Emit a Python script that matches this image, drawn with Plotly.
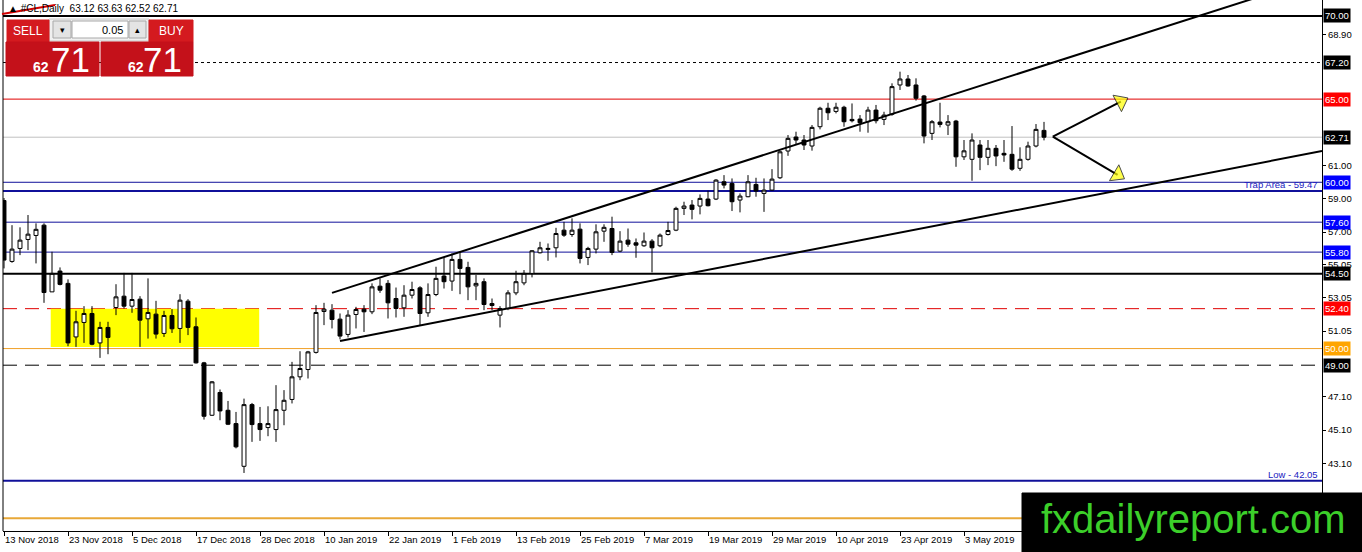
import plotly.graph_objects as go
import pandas as pd

# ---- datos (CL diario, 13 Nov 2018 - 17 May 2019) ----
festivos = ["2018-12-25", "2019-01-01", "2019-04-19"]
fechas = pd.bdate_range("2018-11-13", periods=131, freq="C", holidays=festivos)

apertura = [58.90, 55.24, 56.02, 56.56, 56.80, 57.42, 53.41, 54.66, 53.92, 50.70,
            51.57, 52.11, 50.34, 51.27, 52.47, 53.15, 52.55, 52.97, 51.79, 52.07,
            50.91, 51.99, 51.21, 52.85, 51.31, 49.14, 45.99, 47.36, 46.29, 45.49,
            42.92, 46.63, 45.49, 45.25, 45.13, 46.29, 46.94, 48.30, 48.74, 49.77,
            52.23, 52.31, 51.77, 50.85, 52.05, 52.37, 52.21, 53.75, 53.92, 53.01,
            52.45, 53.21, 53.65, 52.15, 53.25, 54.36, 54.06, 55.36, 54.88, 53.77,
            54.02, 52.59, 52.01, 52.41, 53.35, 53.95, 54.52, 55.76, 55.96, 56.06,
            57.12, 56.86, 57.18, 55.48, 55.98, 57.06, 57.22, 55.86, 56.52, 56.36,
            56.18, 56.46, 56.18, 56.86, 57.12, 58.43, 58.63, 58.57, 58.99, 58.99,
            60.03, 59.93, 58.93, 59.13, 59.87, 59.33, 59.53, 60.27, 61.88, 62.72,
            62.54, 62.18, 63.34, 64.45, 64.26, 64.51, 63.78, 63.80, 63.64, 64.34,
            63.78, 64.09, 65.85, 66.21, 65.85, 65.19, 62.94, 63.62, 63.44, 63.68,
            61.53, 61.38, 62.24, 61.50, 62.04, 61.74, 61.68, 60.84, 61.38, 62.18,
            63.12]
maximo = [59.05, 57.42, 57.29, 58.03, 57.53, 57.53, 55.82, 54.88, 54.16, 52.27,
          52.55, 52.55, 51.61, 51.61, 53.87, 54.55, 54.55, 53.15, 54.22, 52.87,
          52.27, 52.37, 53.27, 52.97, 51.87, 49.20, 48.05, 47.54, 46.85, 46.19,
          46.99, 46.73, 46.49, 46.53, 47.80, 47.50, 49.20, 49.84, 49.86, 52.61,
          52.75, 52.67, 52.11, 52.31, 52.51, 52.61, 53.92, 54.22, 54.12, 53.67,
          53.81, 54.02, 53.75, 53.92, 54.92, 55.48, 55.72, 55.82, 55.22, 54.42,
          54.22, 53.01, 52.55, 53.51, 54.68, 54.72, 55.92, 56.42, 56.32, 57.26,
          57.62, 57.83, 57.53, 56.12, 57.47, 57.47, 57.93, 57.06, 57.22, 56.62,
          56.98, 56.58, 56.92, 57.62, 58.53, 58.83, 58.93, 59.27, 59.49, 60.19,
          60.43, 60.23, 59.33, 60.43, 60.27, 60.23, 60.79, 61.90, 62.84, 63.04,
          62.84, 63.44, 64.54, 64.78, 64.78, 64.60, 64.74, 64.04, 64.54, 64.65,
          64.24, 65.95, 66.65, 66.45, 66.25, 65.25, 63.74, 64.78, 64.04, 63.75,
          62.54, 62.94, 62.54, 62.54, 62.24, 62.54, 63.38, 62.10, 62.44, 63.50,
          63.63]
minimo = [54.82, 55.16, 55.62, 55.92, 55.12, 52.75, 53.41, 53.80, 50.14, 50.10,
          50.34, 50.20, 49.44, 49.66, 52.01, 52.41, 52.15, 50.10, 50.60, 50.60,
          50.70, 50.94, 50.34, 50.81, 49.10, 45.73, 45.95, 45.69, 45.40, 44.00,
          42.52, 44.39, 44.45, 44.73, 44.39, 45.39, 46.70, 48.10, 48.20, 49.70,
          51.41, 51.21, 50.55, 50.67, 51.21, 51.00, 52.07, 53.35, 51.81, 51.87,
          51.91, 53.01, 51.41, 51.91, 53.15, 53.61, 53.47, 53.27, 52.91, 52.91,
          52.31, 52.31, 51.27, 52.31, 53.21, 53.81, 54.28, 55.72, 55.28, 55.48,
          56.72, 56.72, 55.12, 55.02, 55.72, 56.42, 55.62, 55.80, 56.12, 55.46,
          56.12, 54.58, 56.10, 56.80, 57.06, 58.03, 57.77, 58.07, 58.55, 58.93,
          59.63, 58.27, 58.19, 59.10, 59.13, 58.22, 59.50, 60.20, 61.59, 62.24,
          61.94, 61.90, 63.18, 63.74, 64.14, 63.34, 63.60, 63.04, 62.98, 63.54,
          63.44, 64.00, 65.55, 65.75, 64.91, 62.34, 62.54, 63.30, 62.84, 60.93,
          61.34, 60.09, 60.73, 61.03, 60.97, 61.23, 60.69, 60.69, 61.30, 62.10,
          62.52]
cierre = [55.32, 55.98, 56.52, 56.88, 57.17, 53.37, 54.52, 53.86, 50.34, 51.61,
          52.11, 50.26, 51.27, 50.67, 53.11, 52.55, 52.95, 51.71, 52.17, 50.87,
          51.99, 51.19, 52.91, 51.27, 49.14, 45.93, 48.00, 46.25, 45.45, 44.09,
          46.63, 45.43, 45.13, 45.49, 46.33, 46.89, 48.30, 48.80, 49.80, 52.17,
          52.37, 51.75, 50.75, 52.01, 52.35, 52.21, 53.71, 53.51, 52.75, 52.41,
          53.21, 53.55, 52.11, 53.25, 54.22, 54.02, 55.36, 54.82, 53.71, 53.92,
          52.65, 52.71, 52.41, 53.35, 54.02, 54.52, 55.88, 56.06, 56.02, 56.92,
          56.82, 57.12, 55.42, 56.02, 57.02, 57.29, 55.78, 56.46, 56.28, 56.22,
          56.46, 56.06, 56.82, 57.10, 58.43, 58.57, 58.37, 59.03, 58.59, 60.13,
          59.83, 58.83, 59.17, 60.03, 59.47, 59.53, 60.19, 61.83, 62.64, 62.54,
          62.24, 63.30, 64.45, 64.18, 64.51, 63.64, 63.70, 63.58, 64.34, 63.70,
          64.04, 65.75, 66.21, 65.79, 65.05, 62.78, 63.64, 63.48, 63.64, 61.53,
          61.89, 62.54, 61.50, 62.04, 61.58, 61.64, 60.79, 61.38, 62.18, 63.18,
          62.71]

etiquetas_x = ["13 Nov 2018", "23 Nov 2018", "5 Dec 2018", "17 Dec 2018", "28 Dec 2018",
               "10 Jan 2019", "22 Jan 2019", "1 Feb 2019", "13 Feb 2019", "25 Feb 2019",
               "7 Mar 2019", "19 Mar 2019", "29 Mar 2019", "10 Apr 2019", "23 Apr 2019",
               "3 May 2019"]
ticks_y = [68.90, 61.00, 59.00, 57.00, 55.05, 53.05, 51.05, 47.10, 45.10, 43.10]

# niveles horizontales: (precio, color, ancho, dash)
niveles = [
    (70.00, "black", 2, "solid"),
    (67.20, "black", 1, "3px,3px"),
    (65.00, "#e00000", 1, "solid"),
    (62.71, "#c0c0c0", 1, "solid"),
    (60.00, "#10109a", 1, "solid"),
    (59.47, "#10109a", 2, "solid"),
    (57.60, "#10109a", 1, "solid"),
    (55.80, "#10109a", 1, "solid"),
    (54.50, "black", 2, "solid"),
    (52.40, "#e00000", 1, "14px,8px"),
    (50.00, "#f0a028", 1, "solid"),
    (49.00, "black", 1, "14px,8px"),
    (42.05, "#10109a", 2, "solid"),
    (39.80, "#e8a838", 2, "solid"),
]
# etiquetas en el eje derecho: (precio, fondo)
etiquetas_nivel = [
    (70.00, "black"), (67.20, "black"), (65.00, "#ff0000"), (62.71, "black"),
    (60.00, "#0000ff"), (57.60, "#0000ff"), (55.80, "#0000ff"), (54.50, "black"),
    (52.40, "#ff0000"), (50.00, "#ffa500"), (49.00, "black"),
]

# lineas de tendencia (indice de vela, precio)
tendencia_sup_x = [41, 156]
tendencia_sup_y = [53.35, 71.02]
tendencia_inf_x = [42, 164.75]
tendencia_inf_y = [50.46, 61.88]
# flechas
flecha_sup_x = [131.1, 139.6]
flecha_sup_y = [62.74, 64.85]
flecha_inf_x = [131.1, 139.2]
flecha_inf_y = [62.74, 60.45]
# zona amarilla
zona_x = [5.84, 31.9]
zona_y = [50.10, 52.40]

indice = list(range(len(apertura)))

ANCHO, ALTO = 1362, 552
ML, MR, MT, MB = 3, 40, 0, 21
PW, PH = ANCHO - ML - MR, ALTO - MT - MB


def px(x, y):
    # pixel de pantalla -> coordenadas paper
    return (x - ML) / PW, (MT + PH - y) / PH


fig = go.Figure()

fig.add_trace(go.Candlestick(
    x=indice, open=apertura, high=maximo, low=minimo, close=cierre,
    hovertext=[f.strftime("%d %b %Y") for f in fechas],
    increasing=dict(fillcolor="white", line=dict(color="black", width=1)),
    decreasing=dict(fillcolor="black", line=dict(color="black", width=1)),
    whiskerwidth=0,
))

for xs, ys in [(tendencia_sup_x, tendencia_sup_y), (tendencia_inf_x, tendencia_inf_y)]:
    fig.add_trace(go.Scatter(x=xs, y=ys, mode="lines",
                             line=dict(color="black", width=2), hoverinfo="skip"))

for xs, ys in [(flecha_sup_x, flecha_sup_y), (flecha_inf_x, flecha_inf_y)]:
    fig.add_trace(go.Scatter(x=xs, y=ys, mode="lines+markers",
                             line=dict(color="black", width=2),
                             marker=dict(symbol="triangle-up", size=[0, 16], color="#ffff00",
                                         angleref="previous",
                                         line=dict(color="black", width=1)),
                             hoverinfo="skip"))

shapes = []
shapes.append(dict(type="rect", xref="x", yref="y", x0=zona_x[0], x1=zona_x[1],
                   y0=zona_y[0], y1=zona_y[1], fillcolor="#ffff00", line=dict(width=0),
                   layer="below"))
for precio, color, ancho, dash in niveles:
    shapes.append(dict(type="line", xref="paper", yref="y", x0=0, x1=1, y0=precio, y1=precio,
                       line=dict(color=color, width=ancho, dash=dash), layer="below"))

# marco izquierdo
shapes.append(dict(type="line", xref="paper", yref="paper", x0=0, x1=0, y0=0, y1=1,
                   line=dict(color="black", width=1)))
# linea roja arriba a la izquierda
x0p, y0p = px(2, 14)
x1p, y1p = px(55, 5)
shapes.append(dict(type="line", xref="paper", yref="paper", x0=x0p, y0=y0p, x1=x1p, y1=y1p,
                   line=dict(color="#d00000", width=2)))


def caja(x0, y0, x1, y1, fill, borde=None):
    a, b = px(x0, y1)
    c, d = px(x1, y0)
    shapes.append(dict(type="rect", xref="paper", yref="paper", x0=a, y0=b, x1=c, y1=d,
                       fillcolor=fill, line=dict(color=borde or fill, width=1)))


# panel SELL / BUY
caja(49, 19, 149, 41, "#f0f0f0", "#c8c8c8")
caja(7, 20, 49, 42, "#d41a1f")
caja(149, 20, 193, 42, "#d41a1f")
caja(53, 21, 71, 38, "#e4e4e4", "#a8a8a8")
caja(72, 21, 128, 38, "white", "#a8a8a8")
caja(129, 21, 146, 38, "#e4e4e4", "#a8a8a8")
caja(6, 42, 99, 76, "#c4111a")
caja(101, 42, 193, 76, "#c4111a")
# marca de agua
caja(1022, 493, 1370, 560, "black")

anots = []


def texto(x, y, t, size, color="white", anchor="center", bold=False, fam="Liberation Sans"):
    xp, yp = px(x, y)
    anots.append(dict(xref="paper", yref="paper", x=xp, y=yp, text=f"<b>{t}</b>" if bold else t,
                      showarrow=False, xanchor=anchor, yanchor="middle",
                      font=dict(size=size, color=color, family=fam)))


texto(28, 31, "SELL", 12)
texto(171, 31, "BUY", 12)
texto(62, 30, "▾", 9, "black")
texto(137, 30, "▴", 9, "black")
texto(125, 30, "0.05", 11, "black", anchor="right")
texto(41, 67, "62", 14, bold=True)
texto(70, 59, "71", 35)
texto(136, 67, "62", 14, bold=True)
texto(162, 59, "71", 35)
texto(6, 9, "▲ #CL,Daily  63.12 63.63 62.52 62.71", 10, "black", anchor="left")
texto(1193, 519, "fxdailyreport.com", 40, "#3ccf2a")

for precio, fondo in etiquetas_nivel:
    anots.append(dict(xref="paper", yref="y", x=1, y=precio, text=f"{precio:.2f}",
                      showarrow=False, xanchor="left", yanchor="middle", xshift=1,
                      bgcolor=fondo, borderpad=1,
                      font=dict(size=9.5, color="white", family="Liberation Sans")))

for precio, t in [(59.47, "Trap Area - 59.47"), (42.05, "Low - 42.05")]:
    anots.append(dict(xref="paper", yref="y", x=1, y=precio, text=t, showarrow=False,
                      xanchor="right", yanchor="bottom", xshift=-2, yshift=-1,
                      font=dict(size=9.5, color="#2020c0", family="Liberation Sans")))

fig.update_layout(
    width=ANCHO, height=ALTO,
    margin=dict(l=ML, r=MR, t=MT, b=MB),
    paper_bgcolor="white", plot_bgcolor="white",
    showlegend=False,
    shapes=shapes, annotations=anots,
    font=dict(family="Liberation Sans", size=9.5, color="black"),
    xaxis=dict(range=[-0.125, 164.75], rangeslider=dict(visible=False),
               tickvals=[8 * k for k in range(len(etiquetas_x))], ticktext=etiquetas_x,
               ticks="outside", ticklen=4, tickcolor="black",
               ticklabelposition="outside right",
               showline=True, linecolor="black", linewidth=1,
               showgrid=False, zeroline=False, fixedrange=True),
    yaxis=dict(range=[39.03, 70.96], side="right", tickvals=ticks_y,
               ticktext=[f"{v:.2f}" for v in ticks_y],
               ticks="outside", ticklen=3, tickcolor="black",
               showline=True, linecolor="black", linewidth=1,
               showgrid=False, zeroline=False, fixedrange=True),
)

# quitar el margen del body para que la figura quede en (0,0)
fig.write_html("out.html", config={"displayModeBar": False},
               post_script="document.body.style.margin='0';")
